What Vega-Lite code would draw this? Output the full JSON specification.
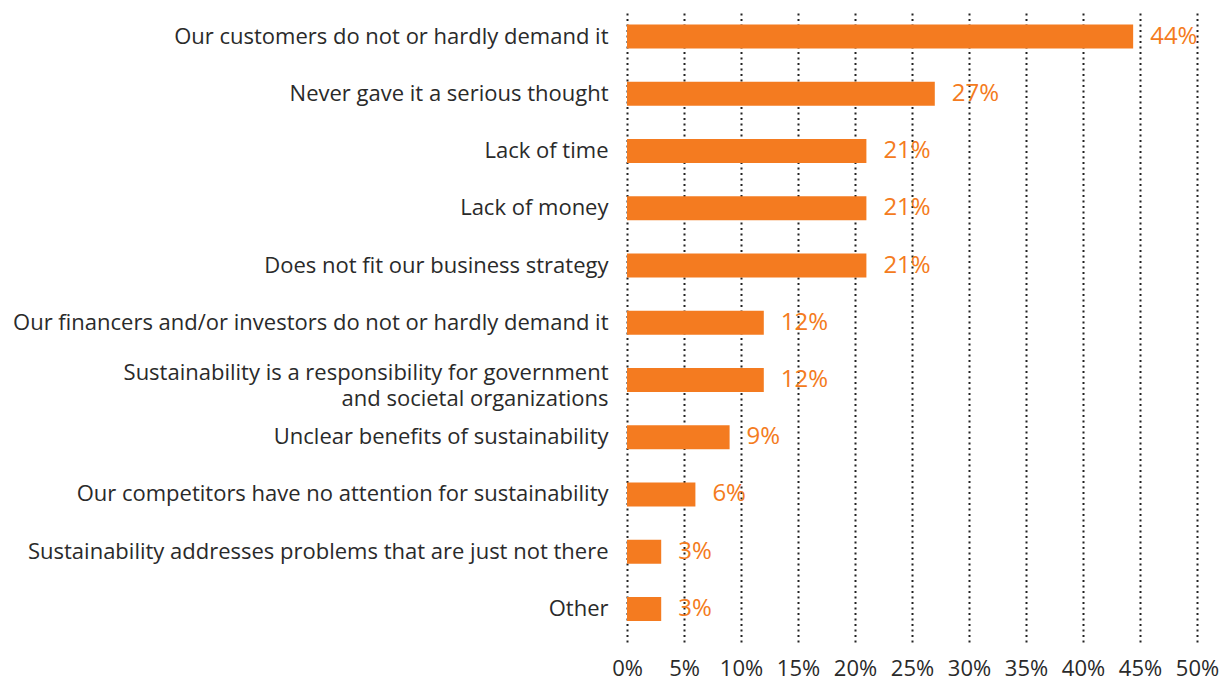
{
  "$schema": "https://vega.github.io/schema/vega-lite/v6.json",
  "autosize": "none",
  "width": 570,
  "height": 629,
  "padding": {"left": 627, "top": 13, "right": 35, "bottom": 40},
  "background": "white",
  "config": {"view": {"stroke": null}, "font": "Open Sans"},
  "data": {"values": [
    {"reason": "Our customers do not or hardly demand it", "value": 44.4, "label": "44%"},
    {"reason": "Never gave it a serious thought", "value": 27, "label": "27%"},
    {"reason": "Lack of time", "value": 21, "label": "21%"},
    {"reason": "Lack of money", "value": 21, "label": "21%"},
    {"reason": "Does not fit our business strategy", "value": 21, "label": "21%"},
    {"reason": "Our financers and/or investors do not or hardly demand it", "value": 12, "label": "12%"},
    {"reason": "Sustainability is a responsibility for government|and societal organizations", "value": 12, "label": "12%"},
    {"reason": "Unclear benefits of sustainability", "value": 9, "label": "9%"},
    {"reason": "Our competitors have no attention for sustainability", "value": 6, "label": "6%"},
    {"reason": "Sustainability addresses problems that are just not there", "value": 3, "label": "3%"},
    {"reason": "Other", "value": 3, "label": "3%"}
  ]},
  "encoding": {
    "y": {
      "field": "reason", "type": "nominal", "sort": null, "title": null,
      "scale": {"paddingInner": 0.58, "paddingOuter": 0.284, "align": 0.354},
      "axis": {
        "ticks": false, "domain": false, "grid": false,
        "labelPadding": 19, "labelFontSize": 22, "labelColor": "#2a2a2a",
        "labelLimit": 0, "labelLineHeight": 26,
        "labelOffset": {"condition": {"test": "indexof(datum.value, '|') >= 0", "value": -7}, "value": 0},
        "labelExpr": "split(datum.label, '|')"
      }
    },
    "x": {
      "field": "value", "type": "quantitative", "title": null,
      "scale": {"domain": [0, 50], "nice": false},
      "axis": {
        "values": [0, 5, 10, 15, 20, 25, 30, 35, 40, 45, 50],
        "labelExpr": "datum.value + '%'",
        "labelOverlap": false, "labelFlush": false,
        "ticks": false, "domain": false,
        "grid": true, "gridColor": "#222222", "gridWidth": 2, "gridDash": [2, 3.5], "gridOpacity": 1,
        "labelPadding": 16, "labelFontSize": 22, "labelColor": "#2a2a2a"
      }
    }
  },
  "layer": [
    {"mark": {"type": "bar", "color": "#F47B20"}},
    {"mark": {"type": "text", "align": "left", "baseline": "middle", "dx": 17, "fontSize": 24, "color": "#F47B20"},
     "encoding": {"text": {"field": "label"}}}
  ]
}
